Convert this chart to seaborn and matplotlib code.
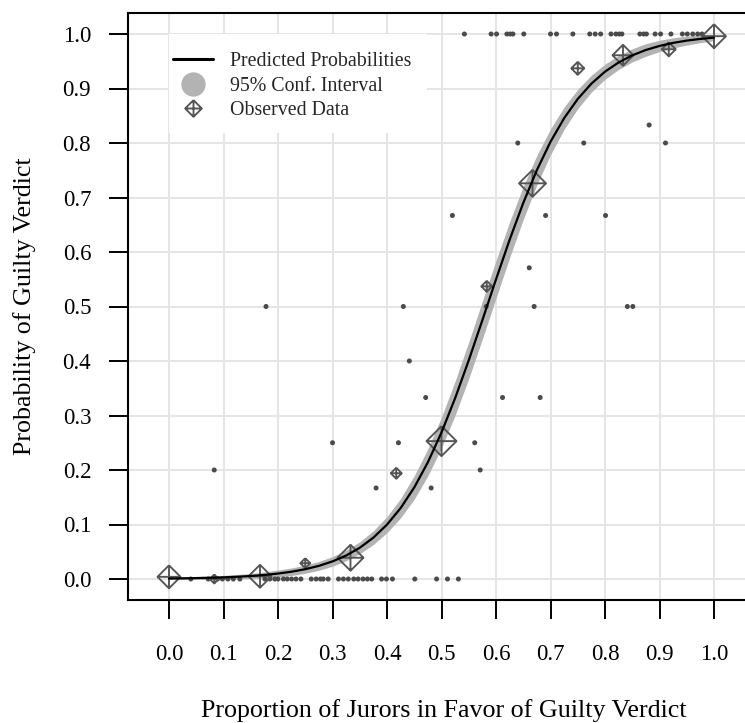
import numpy as np
import pandas as pd
import matplotlib
matplotlib.use("Agg")
import matplotlib.pyplot as plt
from matplotlib.path import Path
from matplotlib.lines import Line2D
from matplotlib.patches import Rectangle
import seaborn as sns

# --- predicted probabilities + 95% band ---
curve_x = [0.000, 0.025, 0.050, 0.075, 0.100, 0.125, 0.150, 0.175, 0.200, 0.225,
           0.250, 0.275, 0.300, 0.325, 0.350, 0.375, 0.400, 0.425, 0.450, 0.475,
           0.500, 0.525, 0.550, 0.575, 0.600, 0.625, 0.650, 0.675, 0.700, 0.725,
           0.750, 0.775, 0.800, 0.825, 0.850, 0.875, 0.900, 0.925, 0.950, 0.975, 1.000]
curve_p = [0.0009, 0.0012, 0.0017, 0.0022, 0.0030, 0.0041, 0.0055, 0.0074, 0.0100, 0.0134,
           0.0180, 0.0241, 0.0323, 0.0431, 0.0573, 0.0759, 0.0998, 0.1301, 0.1680, 0.2142,
           0.2689, 0.3318, 0.4013, 0.4750, 0.5498, 0.6225, 0.6900, 0.7503, 0.8022, 0.8455,
           0.8808, 0.9089, 0.9309, 0.9478, 0.9608, 0.9707, 0.9781, 0.9837, 0.9879, 0.9910, 0.9933]
ci_low = [-0.0009, -0.0011, -0.0011, -0.0010, -0.0007, 0.0000, 0.0009, 0.0019, 0.0035, 0.0065,
          0.0105, 0.0160, 0.0235, 0.0334, 0.0464, 0.0633, 0.0850, 0.1123, 0.1465, 0.1894,
          0.2407, 0.3005, 0.3677, 0.4403, 0.5153, 0.5896, 0.6597, 0.7232, 0.7785, 0.8250,
          0.8631, 0.8934, 0.9170, 0.9350, 0.9487, 0.9591, 0.9677, 0.9744, 0.9796, 0.9841, 0.9878]
ci_high = [0.0027, 0.0035, 0.0045, 0.0054, 0.0067, 0.0082, 0.0101, 0.0129, 0.0165, 0.0203,
           0.0255, 0.0322, 0.0411, 0.0528, 0.0682, 0.0885, 0.1146, 0.1479, 0.1895, 0.2390,
           0.2971, 0.3631, 0.4349, 0.5097, 0.5843, 0.6554, 0.7203, 0.7774, 0.8259, 0.8660,
           0.8985, 0.9244, 0.9448, 0.9606, 0.9729, 0.9823, 0.9885, 0.9930, 0.9962, 0.9979, 0.9988]

# --- observed data, grouped by juror split (marker width ~ number of trials) ---
obs_x = [0.0, 0.083, 0.167, 0.25, 0.333, 0.417, 0.5, 0.583, 0.667, 0.75, 0.833, 0.917, 1.0]
obs_y = [0.004, 0.0, 0.005, 0.029, 0.039, 0.194, 0.253, 0.537, 0.726, 0.937, 0.961, 0.972, 0.996]
obs_width = [23, 9, 23, 10, 26, 11, 30, 11, 27, 13, 21, 14, 24]

# --- individual trials ---
guilty_x = [0.542, 0.591, 0.601, 0.620, 0.626, 0.631, 0.651, 0.700, 0.711, 0.741,
            0.772, 0.782, 0.792, 0.811, 0.820, 0.826, 0.831, 0.864, 0.871, 0.876,
            0.892, 0.902, 0.921, 0.942, 0.951, 0.961, 0.970, 0.978]
acquit_x = [0.040, 0.072, 0.089, 0.098, 0.108, 0.118, 0.130, 0.176, 0.185, 0.194,
            0.200, 0.210, 0.217, 0.225, 0.233, 0.242, 0.261, 0.270, 0.278, 0.283,
            0.292, 0.311, 0.320, 0.329, 0.339, 0.347, 0.356, 0.364, 0.372, 0.390,
            0.399, 0.410, 0.451, 0.491, 0.511, 0.531]
mixed_x = [0.083, 0.178, 0.300, 0.380, 0.421, 0.471, 0.481, 0.561, 0.571, 0.430,
           0.441, 0.520, 0.582, 0.612, 0.661, 0.670, 0.681, 0.691, 0.640, 0.761,
           0.801, 0.841, 0.851, 0.881, 0.911]
mixed_y = [0.200, 0.500, 0.250, 0.167, 0.250, 0.333, 0.167, 0.250, 0.200, 0.500,
           0.400, 0.667, 0.500, 0.333, 0.571, 0.500, 0.333, 0.667, 0.800, 0.800,
           0.667, 0.500, 0.500, 0.833, 0.800]

tick_vals = [0.0, 0.1, 0.2, 0.3, 0.4, 0.5, 0.6, 0.7, 0.8, 0.9, 1.0]
tick_labels = ["0.0", "0.1", "0.2", "0.3", "0.4", "0.5", "0.6", "0.7", "0.8", "0.9", "1.0"]

sns.set_theme(style="whitegrid")
plt.rcParams["font.family"] = ["Liberation Serif", "DejaVu Serif"]

dark = "#555555"
band = "#b3b3b3"

# diamond with a cross inside (like R's pch = 9)
diamond_plus = Path(
    [(0, 1), (1, 0), (0, -1), (-1, 0), (0, 1), (-1, 0), (1, 0), (0, -1), (0, 1)],
    [Path.MOVETO, Path.LINETO, Path.LINETO, Path.LINETO, Path.LINETO,
     Path.MOVETO, Path.LINETO, Path.MOVETO, Path.LINETO])

curve_df = pd.DataFrame({"x": curve_x, "p": curve_p, "lo": ci_low, "hi": ci_high})
obs_df = pd.DataFrame({"x": obs_x, "y": obs_y, "area": [(w * 0.72) ** 2 for w in obs_width]})
dots_df = pd.DataFrame({
    "x": guilty_x + acquit_x + mixed_x,
    "y": [1.0] * len(guilty_x) + [0.0] * len(acquit_x) + mixed_y,
})

fig = plt.figure(figsize=(7.45, 7.23), dpi=100)
ax = fig.add_axes([128 / 745, 123 / 723, 632 / 745, 587 / 723])

ax.fill_between(curve_df["x"], curve_df["lo"], curve_df["hi"], color=band, lw=0, zorder=2)
sns.scatterplot(data=dots_df, x="x", y="y", s=13, color="#4a4a4a", edgecolor="none",
                ax=ax, zorder=3, legend=False)
sns.scatterplot(data=obs_df, x="x", y="y", size="area",
                sizes=(obs_df["area"].min(), obs_df["area"].max()),
                size_norm=(obs_df["area"].min(), obs_df["area"].max()),
                marker=diamond_plus, facecolor="none", edgecolor=dark, linewidth=1.35,
                ax=ax, zorder=4, legend=False)
sns.lineplot(data=curve_df, x="x", y="p", color="black", lw=1.6, ax=ax, zorder=5)

# white box behind the legend
ax.add_patch(Rectangle((0.0, 0.818), 0.473, 0.182, facecolor="white", edgecolor="none", zorder=1.5))

handles = [
    Line2D([], [], color="black", lw=2.2),
    Line2D([], [], marker="o", ls="none", color=band, markersize=16.5),
    Line2D([], [], marker=diamond_plus, ls="none", mfc="none", mec=dark, mew=1.35, markersize=12),
]
labels = ["Predicted Probabilities", "95% Conf. Interval", "Observed Data"]
ax.legend(handles, labels, loc="upper left", bbox_to_anchor=(45 / 632, 548 / 587),
          frameon=False, fontsize=14.3, handlelength=2.0, handletextpad=0.85,
          labelspacing=0.28, borderpad=0, borderaxespad=0)

ax.set_xlim(-41 / 545, 591 / 545)
ax.set_ylim(-21 / 545, 566 / 545)
ax.set_xticks(tick_vals)
ax.set_xticklabels(tick_labels)
ax.set_yticks(tick_vals)
ax.set_yticklabels(tick_labels)

ax.grid(True, color="#e5e5e5", lw=1.4)
ax.set_axisbelow(True)
for side in ["left", "bottom", "top", "right"]:
    ax.spines[side].set_color("black")
    ax.spines[side].set_linewidth(1.5)

ax.tick_params(axis="both", direction="out", length=13.5, width=1.4, colors="black",
               labelsize=16.5, bottom=True, left=True)
ax.tick_params(axis="x", pad=18)
ax.tick_params(axis="y", pad=13)

ax.set_xlabel("Proportion of Jurors in Favor of Guilty Verdict", fontsize=18.7,
              color="black", va="baseline")
ax.xaxis.set_label_coords(0.5, (600 - 717) / 587)
ax.set_ylabel("Probability of Guilty Verdict", fontsize=18.7, color="black", va="center")
ax.yaxis.set_label_coords((25 - 128) / 632, 0.5)

fig.savefig("out.png", dpi=100)
